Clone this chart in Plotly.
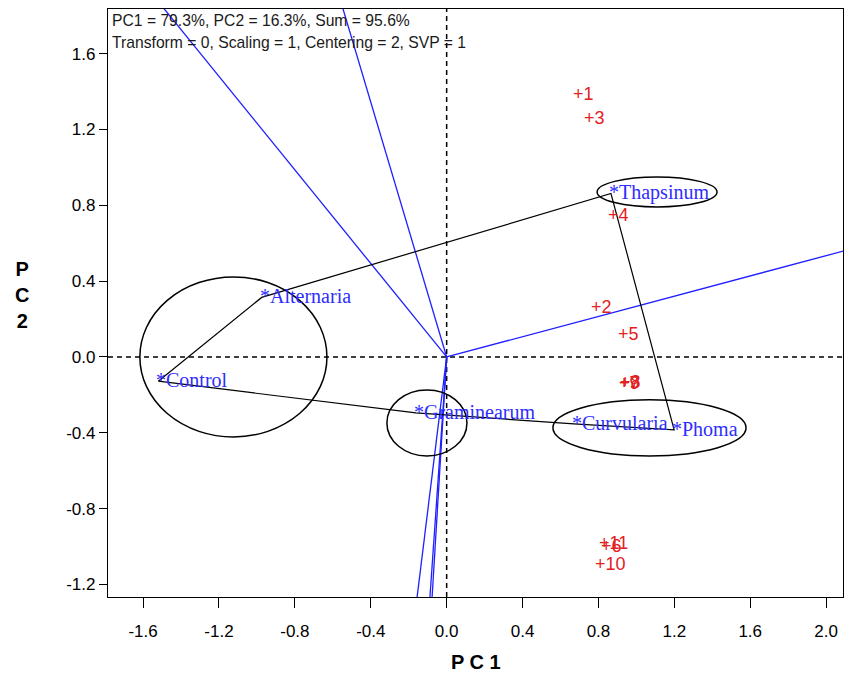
import numpy as np
import plotly.graph_objects as go

# Environment scores (red markers)
env_labels = ["1", "2", "3", "4", "5", "6", "7", "8", "9", "10", "11"]
env_pc1 = [0.685, 0.781, 0.743, 0.870, 0.926, 0.833, 0.930, 0.933, 0.928, 0.803, 0.826]
env_pc2 = [1.394, 0.269, 1.267, 0.754, 0.128, -0.992, -0.130, -0.128, -0.132, -1.088, -0.974]

# Genotype scores (blue markers), listed in polygon order
gen_names = ["Control", "Alternaria", "Thapsinum", "Phoma", "Curvularia", "Graminearum"]
gen_pc1 = [-1.520, -0.975, 0.866, 1.199, 0.671, -0.162]
gen_pc2 = [-0.128, 0.314, 0.862, -0.385, -0.353, -0.295]

# Grouping ellipses (centre and semi-axes, PC units)
ell_cx = [1.109, -1.124, -0.104, 1.069]
ell_cy = [0.870, 0.000, -0.348, -0.374]
ell_rx = [0.316, 0.493, 0.211, 0.509]
ell_ry = [0.079, 0.422, 0.174, 0.148]

tick_vals_x = [-1.6, -1.2, -0.8, -0.4, 0.0, 0.4, 0.8, 1.2, 1.6, 2.0]
tick_text_x = ["-1.6", "-1.2", "-0.8", "-0.4", "0.0", "0.4", "0.8", "1.2", "1.6", "2.0"]
tick_vals_y = [-1.2, -0.8, -0.4, 0.0, 0.4, 0.8, 1.2, 1.6]
tick_text_y = ["-1.2", "-0.8", "-0.4", "0.0", "0.4", "0.8", "1.2", "1.6"]

header_lines = ["PC1 = 79.3%, PC2 = 16.3%, Sum = 95.6%",
                "Transform = 0, Scaling = 1, Centering = 2, SVP = 1"]

X_RANGE = [-1.785, 2.089]
Y_RANGE = [-1.266, 1.835]

RED = "#e3201e"
BLUE = "#2d2dff"
RAY_BLUE = "#1f1fff"

fig = go.Figure()

# Rays from the origin perpendicular to each side of the polygon
px_ = np.array(gen_pc1)
py_ = np.array(gen_pc2)
n = len(px_)
for i in range(n):
    a = np.array([px_[i], py_[i]])
    b = np.array([px_[(i + 1) % n], py_[(i + 1) % n]])
    d = b - a
    t = -np.dot(a, d) / np.dot(d, d)
    foot = a + t * d
    u = foot / np.linalg.norm(foot)
    end = u * 6.0
    fig.add_trace(go.Scatter(x=[0, end[0]], y=[0, end[1]], mode="lines",
                             line=dict(color=RAY_BLUE, width=1.3),
                             hoverinfo="skip", showlegend=False))

# Polygon joining the outermost genotypes
fig.add_trace(go.Scatter(x=gen_pc1 + [gen_pc1[0]], y=gen_pc2 + [gen_pc2[0]],
                         mode="lines", line=dict(color="black", width=1.2),
                         hoverinfo="skip", showlegend=False))

annotations = []
for lab, x, y in zip(env_labels, env_pc1, env_pc2):
    annotations.append(dict(x=x, y=y, xref="x", yref="y", text="+" + lab,
                            showarrow=False, xanchor="left", yanchor="middle",
                            xshift=-6, yshift=-1,
                            font=dict(family="Liberation Sans, Arial", size=18, color=RED)))
for name, x, y in zip(gen_names, gen_pc1, gen_pc2):
    annotations.append(dict(x=x, y=y, xref="x", yref="y", text="*" + name,
                            showarrow=False, xanchor="left", yanchor="middle",
                            xshift=-4, yshift=1,
                            font=dict(family="Liberation Serif, Times New Roman", size=20, color=BLUE)))

for k, line in enumerate(header_lines):
    annotations.append(dict(x=0, y=1, xref="paper", yref="paper", text=line,
                            showarrow=False, xanchor="left", yanchor="top",
                            xshift=2, yshift=-1 - 22 * k,
                            font=dict(family="Liberation Sans, Arial", size=15.7, color="#1a1a1a")))

annotations.append(dict(x=0.5, y=0, xref="paper", yref="paper", text="<b>P C 1</b>",
                        showarrow=False, xanchor="center", yanchor="middle", yshift=-65,
                        font=dict(family="Liberation Sans, Arial", size=20, color="black")))
annotations.append(dict(x=0, y=0.5, xref="paper", yref="paper", text="<b>P<br>C<br>2</b>",
                        showarrow=False, xanchor="center", yanchor="middle",
                        xshift=-86, yshift=8,
                        font=dict(family="Liberation Sans, Arial", size=20, color="black")))

shapes = [
    dict(type="line", xref="x", yref="y domain", x0=0, x1=0, y0=0, y1=1,
         line=dict(color="black", width=1.5, dash="5px,4px"), layer="below"),
    dict(type="line", xref="x domain", yref="y", x0=0, x1=1, y0=0, y1=0,
         line=dict(color="black", width=1.5, dash="5px,4px"), layer="below"),
]
for cx, cy, rx, ry in zip(ell_cx, ell_cy, ell_rx, ell_ry):
    shapes.append(dict(type="circle", xref="x", yref="y",
                       x0=cx - rx, x1=cx + rx, y0=cy - ry, y1=cy + ry,
                       line=dict(color="black", width=1.5)))

fig.update_layout(
    width=852, height=676,
    margin=dict(l=108, r=9, t=9, b=79),
    paper_bgcolor="white", plot_bgcolor="white",
    showlegend=False,
    annotations=annotations,
    shapes=shapes,
    xaxis=dict(range=X_RANGE, tickvals=tick_vals_x, ticktext=tick_text_x,
               showgrid=False, zeroline=False, showline=True, linecolor="black",
               linewidth=1.2, mirror=True, ticks="outside", ticklen=10,
               tickcolor="black", tickwidth=1.2, ticklabelstandoff=8,
               tickfont=dict(family="Liberation Sans, Arial", size=17, color="black")),
    yaxis=dict(range=Y_RANGE, tickvals=tick_vals_y, ticktext=tick_text_y,
               showgrid=False, zeroline=False, showline=True, linecolor="black",
               linewidth=1.2, mirror=True, ticks="outside", ticklen=8,
               tickcolor="black", tickwidth=1.2,
               tickfont=dict(family="Liberation Sans, Arial", size=17, color="black")),
)

fig.write_html("out.html")
